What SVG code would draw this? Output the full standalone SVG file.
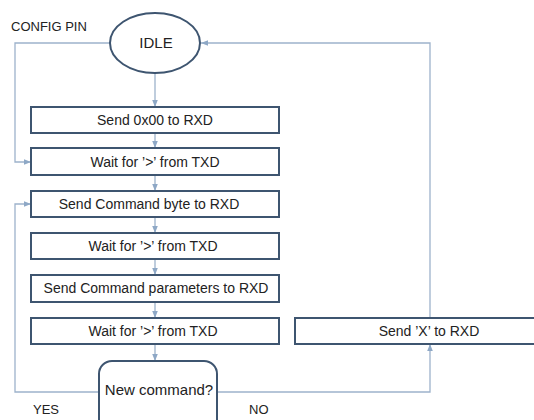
<svg xmlns="http://www.w3.org/2000/svg" width="534" height="420" viewBox="0 0 534 420">
<defs>
<marker id="ah" viewBox="0 0 10 10" refX="10" refY="5" markerWidth="7" markerHeight="7" orient="auto" markerUnits="userSpaceOnUse">
<path d="M0,1 L10,5 L0,9 z" fill="#8ea8c6"/>
</marker>
<style>
.box{fill:#fff;stroke:#3e5570;stroke-width:2}
.t{font-family:"Liberation Sans",Arial,sans-serif;font-size:14px;fill:#222;text-anchor:middle}
.l{font-family:"Liberation Sans",Arial,sans-serif;font-size:13px;fill:#222}
.c{fill:none;stroke:#9db2cb;stroke-width:1.3}
</style>
</defs>
<rect width="534" height="420" fill="#fff"/>
<g id="connectors">
<path class="c" d="M155,73 V107" marker-end="url(#ah)"/>
<path class="c" d="M155,133 V148" marker-end="url(#ah)"/>
<path class="c" d="M155,175 V191" marker-end="url(#ah)"/>
<path class="c" d="M155,217 V233" marker-end="url(#ah)"/>
<path class="c" d="M155,259 V275" marker-end="url(#ah)"/>
<path class="c" d="M155,302 V318" marker-end="url(#ah)"/>
<path class="c" d="M155,344 V361" marker-end="url(#ah)"/>
<path class="c" d="M110,43 H15 V162 H31" marker-end="url(#ah)"/>
<path class="c" d="M99,392 H15 V204 H31" marker-end="url(#ah)"/>
<path class="c" d="M217,392 H430 V344" marker-end="url(#ah)"/>
<path class="c" d="M430,318 V43 H201" marker-end="url(#ah)"/>
</g>
<g id="idle">
<ellipse cx="155" cy="43" rx="45" ry="30" fill="#fff" stroke="#3e5570" stroke-width="2"/>
<text class="t" x="156" y="48" style="font-size:15px">IDLE</text>
</g>
<g id="send00">
<rect class="box" x="31" y="107" width="248" height="26"/>
<text class="t" x="155" y="125">Send 0x00 to RXD</text>
</g>
<g id="wait1">
<rect class="box" x="31" y="148" width="248" height="27"/>
<text class="t" x="155" y="167">Wait for ’&gt;’ from TXD</text>
</g>
<g id="sendcmd">
<rect class="box" x="31" y="191" width="248" height="26"/>
<text class="t" x="149" y="209">Send Command byte to RXD</text>
</g>
<g id="wait2">
<rect class="box" x="31" y="233" width="248" height="26"/>
<text class="t" x="153" y="251">Wait for ’&gt;’ from TXD</text>
</g>
<g id="sendparams">
<rect class="box" x="31" y="275" width="248" height="27"/>
<text class="t" x="156" y="293">Send Command parameters to RXD</text>
</g>
<g id="wait3">
<rect class="box" x="31" y="318" width="248" height="26"/>
<text class="t" x="153" y="336">Wait for ’&gt;’ from TXD</text>
</g>
<g id="sendx">
<rect class="box" x="295" y="318" width="268" height="26"/>
<text class="t" x="429" y="336">Send ’X’ to RXD</text>
</g>
<g id="newcmd">
<rect class="box" x="99" y="361" width="118" height="80" rx="13"/>
<text class="t" x="159" y="395" style="font-size:15px">New command?</text>
</g>
<g id="labels">
<text class="l" x="11" y="31">CONFIG PIN</text>
<text class="l" x="33" y="414">YES</text>
<text class="l" x="249" y="414">NO</text>
</g>
</svg>
